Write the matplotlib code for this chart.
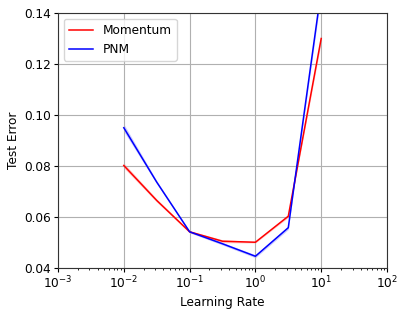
import matplotlib
matplotlib.use("Agg")
import matplotlib.pyplot as plt
import numpy as np

lr = [0.01, 0.0316, 0.1, 0.316, 1.0, 3.16, 10.0]
mom_mean = [0.0802, 0.0665, 0.0542, 0.0505, 0.0501, 0.0603, 0.1300]
mom_std = [0.0010, 0.0006, 0.0004, 0.0006, 0.0003, 0.0005, 0.0015]
pnm_mean = [0.0950, 0.0737, 0.0542, 0.0495, 0.0446, 0.0558, 0.1490]
pnm_std = [0.0015, 0.0006, 0.0004, 0.0005, 0.0006, 0.0007, 0.0020]

plt.rcParams['font.size'] = 8.7
fig = plt.figure(figsize=(4.07, 3.15), dpi=100)
ax = fig.add_axes([58/407, 1-268/315, (387-58)/407, (268-13)/315])

lr_a = np.array(lr)
for m, s, c, lab in [(mom_mean, mom_std, 'red', 'Momentum'), (pnm_mean, pnm_std, 'blue', 'PNM')]:
    m = np.array(m); s = np.array(s)
    ax.plot(lr_a, m, color=c, lw=1.1, label=lab)
    ax.fill_between(lr_a, m - s, m + s, color=c, alpha=0.2, lw=0)

ax.set_xscale('log')
ax.set_xlim(1e-3, 1e2)
ax.set_ylim(0.04, 0.14)
ax.set_yticks([0.04, 0.06, 0.08, 0.10, 0.12, 0.14])
ax.grid(True, which='major', color='#b0b0b0', lw=0.8)
ax.tick_params(which='major', length=3, pad=2)
ax.tick_params(which='minor', length=1.5)
ax.set_xlabel('Learning Rate', labelpad=3)
ax.set_ylabel('Test Error', labelpad=3)
for sp in ax.spines.values():
    sp.set_color('#333333')
ax.legend(loc='upper left', fontsize=8.7)
fig.savefig('out.png', dpi=100)
